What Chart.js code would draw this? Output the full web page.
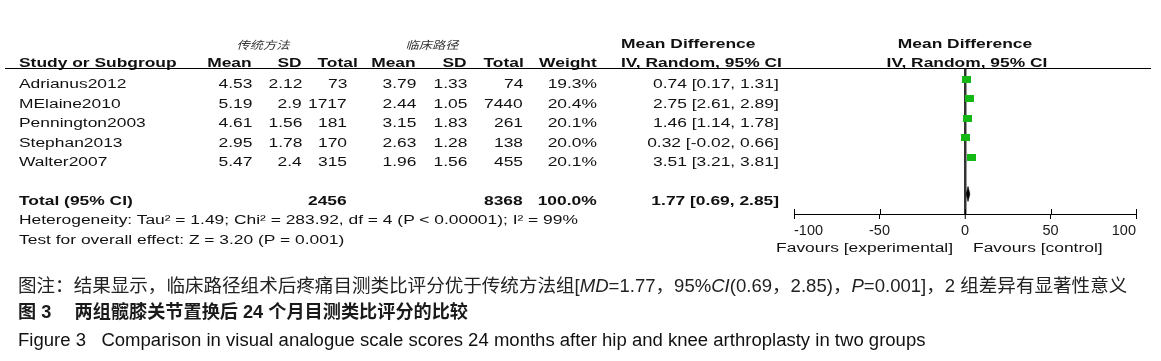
<!DOCTYPE html>
<html>
<head>
<meta charset="utf-8">
<script src="https://cdn.jsdelivr.net/npm/chart.js@4.4.1/dist/chart.umd.min.js"></script>
<style>
html,body{margin:0;padding:0;background:#fff;}
#wrap{position:relative;width:1161px;height:361px;overflow:hidden;background:#fff;}
#c{position:absolute;left:0;top:0;}
.t{position:absolute;white-space:pre;font-family:"Liberation Sans",Arial,"Noto Sans CJK SC",sans-serif;font-size:12px;color:#111;line-height:1;}
.rule{position:absolute;background:#000;}
</style>
</head>
<body>
<div id="wrap"><canvas id="c" width="1161" height="361"></canvas></div>
<script>
// ---------------- data ----------------
const studies   = ['Adrianus2012','MElaine2010','Pennington2003','Stephan2013','Walter2007'];
const expMean   = ['4.53','5.19','4.61','2.95','5.47'];
const expSD     = ['2.12','2.9','1.56','1.78','2.4'];
const expTotal  = [73, 1717, 181, 170, 315];
const ctlMean   = ['3.79','2.44','3.15','2.63','1.96'];
const ctlSD     = ['1.33','1.05','1.83','1.28','1.56'];
const ctlTotal  = [74, 7440, 261, 138, 455];
const weights   = [19.3, 20.4, 20.1, 20.0, 20.1];
const md        = [0.74, 2.75, 1.46, 0.32, 3.51];
const ciLow     = [0.17, 2.61, 1.14, -0.02, 3.21];
const ciHigh    = [1.31, 2.89, 1.78, 0.66, 3.81];
const pooledMD  = 1.77;
const pooledLow = 0.69;
const pooledHigh= 2.85;
const totalWeight = 100.0;
const xTicks    = [-100, -50, 0, 50, 100];
const groupLabels = ['传统方法', '临床路径'];
const favourLabels = ['Favours [experimental]', 'Favours [control]'];
const heterogeneityText = 'Heterogeneity: Tau² = 1.49; Chi² = 283.92, df = 4 (P < 0.00001); I² = 99%';
const overallText = 'Test for overall effect: Z = 3.20 (P = 0.001)';

// ---------------- layout helpers ----------------
const W = 1161;
const SX = 1.45;
const wrap = document.getElementById('wrap');
function txt(str, x, y, align, o = {}) {
  const e = document.createElement('div');
  e.className = 't';
  if (o.html) e.innerHTML = str; else e.textContent = str;
  const s = o.sx !== undefined ? o.sx : SX;
  if (o.size) e.style.fontSize = o.size + 'px';
  if (o.bold) e.style.fontWeight = 'bold';
  if (o.family) e.style.fontFamily = o.family;
  if (o.italic) e.style.fontStyle = 'italic';
  if (o.color) e.style.color = o.color;
  e.style.top = y + 'px';
  if (align === 'left') {
    e.style.left = x + 'px'; e.style.transformOrigin = '0 50%';
    e.style.transform = `translateY(-50%) scaleX(${s})`;
  } else if (align === 'right') {
    e.style.right = (W - x) + 'px'; e.style.transformOrigin = '100% 50%';
    e.style.transform = `translateY(-50%) scaleX(${s})`;
  } else {
    e.style.left = x + 'px'; e.style.transformOrigin = '50% 50%';
    e.style.transform = `translate(-50%,-50%) scaleX(${s})`;
  }
  wrap.appendChild(e);
  return e;
}
function fit(e, x0, x1) {
  const w = e.offsetWidth;
  e.style.transform = `translateY(-50%) scaleX(${(x1 - x0) / w})`;
}
function rule(x, y, w, h) {
  const d = document.createElement('div');
  d.className = 'rule';
  d.style.left = x + 'px'; d.style.top = y + 'px';
  d.style.width = w + 'px'; d.style.height = h + 'px';
  wrap.appendChild(d);
}

// ---------------- table text ----------------
const ROW0 = 84, ROWH = 19.5;
txt(groupLabels[0], 263, 44, 'center', {family:'"Noto Sans CJK SC",sans-serif', size:11, italic:true, sx:1.2, color:'#333'});
txt(groupLabels[1], 432, 44, 'center', {family:'"Noto Sans CJK SC",sans-serif', size:11, italic:true, sx:1.2, color:'#333'});
txt('Mean Difference', 621, 44, 'left', {bold:true});
txt('Mean Difference', 965, 44, 'center', {bold:true});

const HY = 62.5;
txt('Study or Subgroup', 19, HY, 'left', {bold:true});
txt('Mean', 252, HY, 'right', {bold:true});
txt('SD', 302, HY, 'right', {bold:true});
txt('Total', 358, HY, 'right', {bold:true});
txt('Mean', 416, HY, 'right', {bold:true});
txt('SD', 467, HY, 'right', {bold:true});
txt('Total', 524, HY, 'right', {bold:true});
txt('Weight', 597, HY, 'right', {bold:true});
txt('IV, Random, 95% CI', 621, HY, 'left', {bold:true});
txt('IV, Random, 95% CI', 967, HY, 'center', {bold:true});
rule(5, 68, 1146, 1.4);

studies.forEach((s, i) => {
  const y = ROW0 + ROWH * i;
  txt(s, 19, y, 'left');
  txt(expMean[i], 252, y, 'right');
  txt(expSD[i], 302, y, 'right');
  txt(String(expTotal[i]), 347, y, 'right');
  txt(ctlMean[i], 416, y, 'right');
  txt(ctlSD[i], 467, y, 'right');
  txt(String(ctlTotal[i]), 523, y, 'right');
  txt(weights[i].toFixed(1) + '%', 597, y, 'right');
  txt(`${md[i].toFixed(2)} [${ciLow[i].toFixed(2)}, ${ciHigh[i].toFixed(2)}]`, 779, y, 'right');
});
const TY = 200.5;
txt('Total (95% CI)', 19, TY, 'left', {bold:true});
txt(String(expTotal.reduce((a, b) => a + b, 0)), 347, TY, 'right', {bold:true});
txt(String(ctlTotal.reduce((a, b) => a + b, 0)), 523, TY, 'right', {bold:true});
txt(totalWeight.toFixed(1) + '%', 597, TY, 'right', {bold:true});
txt(`${pooledMD.toFixed(2)} [${pooledLow.toFixed(2)}, ${pooledHigh.toFixed(2)}]`, 779, TY, 'right', {bold:true});
txt(heterogeneityText, 19, 220, 'left');
txt(overallText, 19, 239.5, 'left');

txt(favourLabels[0], 953, 248, 'right');
txt(favourLabels[1], 973, 248, 'left');

// ---------------- captions ----------------
const cap1 = txt('图注：结果显示，临床路径组术后疼痛目测类比评分优于传统方法组[<i>MD</i>=1.77，95%<i>CI</i>(0.69，2.85)，<i>P</i>=0.001]，2 组差异有显著性意义',
  18, 285.5, 'left', {html:true, size:18, sx:1, color:'#222'});
fit(cap1, 18, 1127);
const cap2 = txt('图 3 \u3000两组髋膝关节置换后 24 个月目测类比评分的比较', 18, 311.5, 'left', {size:18, bold:true, sx:1, color:'#1a1a1a'});
fit(cap2, 18, 468);
const cap3 = txt('Figure 3   Comparison in visual analogue scale scores 24 months after hip and knee arthroplasty in two groups', 18, 340, 'left', {size:18, sx:1, color:'#111'});
fit(cap3, 18, 925);

// ---------------- chart ----------------
const SQ_Y0 = 79.3;          // pixel centre of first square
const PLOT_TOP = 68, PLOT_BOTTOM = 214;
const yMin = (PLOT_TOP - SQ_Y0) / ROWH;
const yMax = (PLOT_BOTTOM - SQ_Y0) / ROWH;
const totalRow = (194 - SQ_Y0) / ROWH;
const diamondHalf = 7.5 / ROWH;

const sq = document.createElement('canvas');
sq.width = 9; sq.height = 7;
const sctx = sq.getContext('2d');
sctx.fillStyle = '#14b814';
sctx.fillRect(0, 0, 9, 7);

const crossTicks = {
  id: 'crossTicks',
  afterDraw(chart) {
    const xs = chart.scales.x, c = chart.ctx;
    c.save();
    c.strokeStyle = '#000'; c.lineWidth = 1;
    xs.ticks.forEach((t, i) => {
      const px = Math.round(xs.getPixelForTick(i)) + 0.5;
      c.beginPath(); c.moveTo(px, xs.top - 5); c.lineTo(px, xs.top); c.stroke();
    });
    c.restore();
  }
};

const axisFont = {family: '"Liberation Sans", Arial, sans-serif', size: 14.5};
const TICK_PAD = 3;
const axisHeight = 5 + axisFont.size * 1.2 + TICK_PAD * 2;

new Chart(document.getElementById('c'), {
  type: 'scatter',
  data: {
    datasets: [
      {
        label: 'studies',
        data: md.map((v, i) => ({x: v, y: i})),
        pointStyle: sq,
        pointRadius: 4,
        pointHoverRadius: 4
      },
      ...md.map((v, i) => ({
        type: 'line',
        label: 'ci' + i,
        data: [{x: ciLow[i], y: i}, {x: ciHigh[i], y: i}],
        borderColor: '#000', borderWidth: 1, pointRadius: 0, fill: false
      })),
      {
        type: 'line',
        label: 'pooled',
        data: [
          {x: pooledLow, y: totalRow},
          {x: pooledMD, y: totalRow - diamondHalf},
          {x: pooledHigh, y: totalRow},
          {x: pooledMD, y: totalRow + diamondHalf},
          {x: pooledLow, y: totalRow}
        ],
        borderColor: '#000', backgroundColor: '#000', borderWidth: 0.6,
        pointRadius: 0, fill: 'shape', tension: 0
      }
    ]
  },
  options: {
    responsive: false,
    animation: false,
    devicePixelRatio: 1,
    events: [],
    layout: {padding: {left: 794, right: 25, top: PLOT_TOP, bottom: 361 - PLOT_BOTTOM - axisHeight}},
    plugins: {legend: {display: false}, tooltip: {enabled: false}},
    scales: {
      x: {
        type: 'linear', min: xTicks[0], max: xTicks[xTicks.length - 1], position: 'bottom',
        afterBuildTicks: axis => { axis.ticks = xTicks.map(v => ({value: v})); },
        ticks: {align: 'inner', padding: TICK_PAD, font: axisFont, color: '#1a1a1a', maxRotation: 0, autoSkip: false},
        grid: {
          drawOnChartArea: true,
          color: c => (c.tick && c.tick.value === 0) ? '#333' : 'rgba(0,0,0,0)',
          lineWidth: c => (c.tick && c.tick.value === 0) ? 2.5 : 1,
          tickColor: '#000', tickLength: 5, tickWidth: 1
        },
        border: {display: true, color: '#000', width: 1}
      },
      y: {type: 'linear', display: false, reverse: true, min: yMin, max: yMax}
    }
  },
  plugins: [crossTicks]
});
</script>
</body>
</html>
